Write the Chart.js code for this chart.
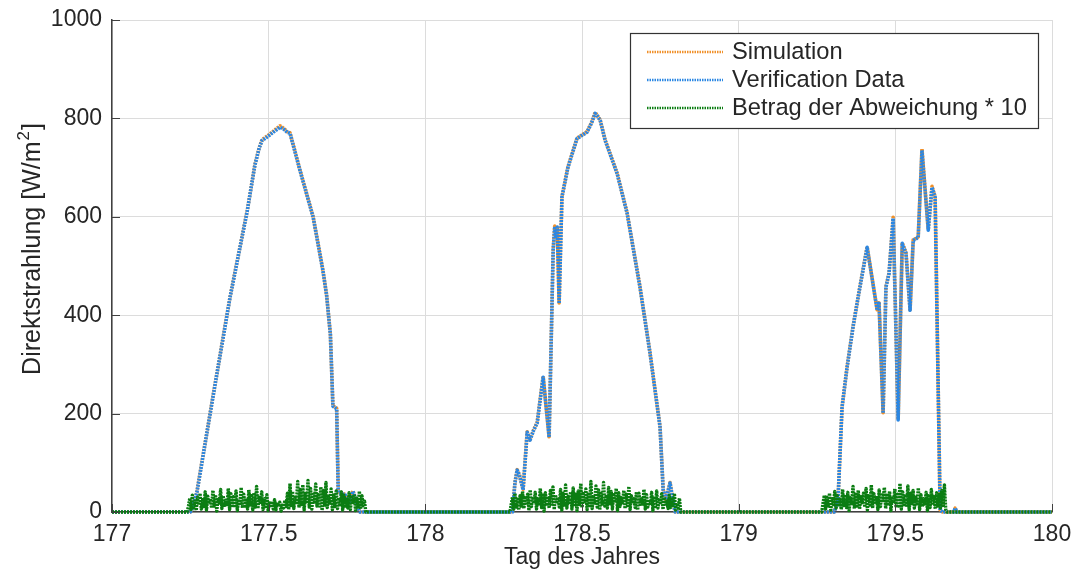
<!DOCTYPE html>
<html><head><meta charset="utf-8">
<script src="https://cdn.jsdelivr.net/npm/chart.js@4.4.1/dist/chart.umd.min.js"></script>
<style>html,body{margin:0;padding:0;background:#fff}canvas{display:block}</style>
</head><body>
<canvas id="c" width="1076" height="575"></canvas>
<script>
// ---------- data ----------
const seriesNames = ['Simulation', 'Verification Data', 'Betrag der Abweichung * 10'];
const xTitle = 'Tag des Jahres';
const yTitleMain = 'Direktstrahlung [W/m';
const yTitleSup = '2';
const yTitleEnd = ']';
const xTickValues = [177, 177.5, 178, 178.5, 179, 179.5, 180];
const yTickValues = [0, 200, 400, 600, 800, 1000];

// time (day of year) for the irradiance curves
const measDays = [
  177.0, 177.25, 177.255, 177.271, 177.322, 177.377, 177.432, 177.456, 177.47, 177.479, 177.495, 177.515,
  177.536, 177.548, 177.559, 177.568, 177.60, 177.642, 177.673, 177.685, 177.697, 177.705, 177.717, 177.722,
  177.744, 177.752, 177.76, 177.769, 177.776, 177.785, 177.792,
  178.278, 178.286, 178.293, 178.30, 178.312, 178.325, 178.334, 178.345, 178.357, 178.376, 178.395, 178.408,
  178.413, 178.417, 178.421, 178.427, 178.436, 178.455, 178.484, 178.516, 178.530, 178.542, 178.549, 178.558,
  178.574, 178.612, 178.644, 178.685, 178.717, 178.749, 178.759, 178.768, 178.781, 178.791, 178.797,
  179.305, 179.317, 179.330, 179.346, 179.365, 179.385, 179.410, 179.442, 179.448, 179.461, 179.470, 179.480,
  179.493, 179.509, 179.522, 179.534, 179.547, 179.557, 179.573, 179.585, 179.605, 179.617, 179.627, 179.643,
  179.65, 179.686, 179.691, 179.696, 180.0
];
const verificationValues = [
  0, 0, 5, 40, 233, 437, 613, 705, 740, 755, 762, 772,
  782, 778, 772, 770, 694, 599, 491, 440, 360, 215, 210, 40,
  35, 22, 20, 42, 30, 8, 0,
  0, 59, 85, 75, 45, 162, 146, 165, 181, 274, 152, 532,
  580, 560, 579, 424, 640, 700, 759, 772, 790, 810, 805, 796,
  755, 688, 607, 457, 323, 173, 45, 25, 59, 20, 0,
  0, 24, 213, 294, 376, 450, 538, 410, 424, 201, 457, 485,
  597, 187, 546, 526, 410, 552, 558, 735, 573, 660, 640, 4,
  0, 0, 8, 0, 0
];
const simulationValues = [
  0, 0, 5, 41, 234, 438, 614, 706, 741, 757, 764, 774,
  785, 780, 773, 771, 695, 600, 492, 441, 361, 216, 211, 41,
  36, 22, 21, 43, 30, 8, 0,
  0, 60, 86, 76, 46, 163, 147, 166, 182, 276, 153, 533,
  581, 561, 580, 425, 641, 701, 760, 773, 791, 812, 806, 797,
  756, 689, 608, 458, 324, 174, 46, 25, 60, 20, 0,
  0, 25, 214, 295, 377, 451, 539, 411, 425, 202, 458, 486,
  599, 188, 547, 527, 411, 553, 559, 738, 574, 662, 641, 4,
  0, 0, 8, 0, 0
];

// |deviation| * 10, sampled at equal intervals within three daylight windows
const devBandStarts = [177.24, 178.27, 179.265];
const devBandEnds   = [177.81, 178.815, 179.665];
const devBand1 = [0,12,28,5,34,9,22,3,30,14,38,6,25,11,41,4,32,16,27,8,44,12,35,2,29,18,46,7,33,10,
  24,15,48,5,37,13,31,9,43,3,26,17,50,8,36,12,28,6,45,14,33,4,39,10,52,7,30,16,41,5,
  27,11,35,3,22,9,18,6,25,4,16,12,20,2,14,8,24,11,38,5,58,13,42,7,33,19,62,9,46,15,
  55,4,37,21,64,10,48,6,40,17,57,12,35,8,51,3,44,14,60,9,32,18,47,5,38,11,43,7,29,15,
  41,4,34,12,26,8,39,5,30,16,36,3,28,10,42,6,33,13,22,0];
const devBand2 = [0,15,30,6,38,10,26,4,33,12,42,7,29,14,36,3,45,11,31,18,40,6,27,13,48,9,34,2,39,16,
  28,8,44,12,51,5,35,17,30,10,46,4,38,14,55,8,32,19,41,6,49,11,36,3,43,15,58,9,37,21,
  47,5,40,13,62,7,34,18,53,10,45,4,38,16,60,12,31,8,50,14,42,6,35,19,48,3,39,11,29,15,
  44,7,36,13,52,5,33,17,27,9,41,4,38,12,30,16,46,6,35,10,25,14,40,3,32,11,43,8,28,15,
  37,5,30,12,22,7,34,9,26,13,38,4,18,8,28,0];
const devBand3 = [0,18,34,6,30,12,38,4,27,15,42,8,33,11,26,5,46,13,35,9,40,3,29,17,52,7,36,12,44,6,
  31,19,38,10,48,4,33,14,55,8,37,16,29,5,45,11,39,20,50,7,34,13,42,3,28,18,47,9,36,12,
  58,6,41,15,32,10,53,4,38,17,44,8,30,13,49,5,35,11,27,16,40,3,33,9,46,14,31,6,39,12,
  36,8,44,10,55,5,0];

// ---------- build point lists ----------
function pairs(xs, ys) { return xs.map((x, i) => ({ x: x, y: ys[i] })); }
function devPoints() {
  const pts = [{ x: 177, y: 0 }];
  [devBand1, devBand2, devBand3].forEach((band, b) => {
    const s = devBandStarts[b], e = devBandEnds[b];
    band.forEach((v, i) => pts.push({ x: s + (e - s) * i / (band.length - 1), y: v }));
  });
  pts.push({ x: 180, y: 0 });
  return pts;
}

const FONT = '"Liberation Sans", Arial, sans-serif';
const TXT = '#262626';
const colors = ['#f0902a', '#2b87e3', '#0b7d12'];
const DASH = [2, 1];

const tickPlugin = {
  id: 'innerTicks',
  afterDatasetsDraw(chart) {
    const ctx = chart.ctx, a = chart.chartArea;
    const xs = chart.scales.x, ys = chart.scales.y;
    ctx.save();
    ctx.strokeStyle = '#404040';
    ctx.lineWidth = 1;
    ctx.beginPath();
    yTickValues.forEach(v => { const y = Math.round(ys.getPixelForValue(v)) + 0.5; ctx.moveTo(a.left, y); ctx.lineTo(a.left + 8, y); });
    xTickValues.forEach(v => { const x = Math.round(xs.getPixelForValue(v)) + 0.5; ctx.moveTo(x, a.bottom); ctx.lineTo(x, a.bottom - 8); });
    ctx.stroke();
    // y axis title with superscript
    ctx.fillStyle = TXT;
    ctx.translate(31, 250);
    ctx.rotate(-Math.PI / 2);
    const mainFont = '25px ' + FONT, supFont = '17px ' + FONT;
    ctx.font = mainFont; const w1 = ctx.measureText(yTitleMain).width; const w3 = ctx.measureText(yTitleEnd).width;
    ctx.font = supFont; const w2 = ctx.measureText(yTitleSup).width;
    let x0 = -(w1 + w2 + w3) / 2;
    ctx.textBaseline = 'alphabetic'; ctx.textAlign = 'left';
    ctx.font = mainFont; ctx.fillText(yTitleMain, x0, 9);
    ctx.font = supFont; ctx.fillText(yTitleSup, x0 + w1 + 1, -2);
    ctx.font = mainFont; ctx.fillText(yTitleEnd, x0 + w1 + w2 + 2, 9);
    ctx.restore();
  }
};

const legendPlugin = {
  id: 'boxLegend',
  afterDraw(chart) {
    const ctx = chart.ctx;
    const box = { l: 630, t: 33, r: 1038, b: 128 };
    ctx.save();
    ctx.fillStyle = '#ffffff';
    ctx.fillRect(box.l, box.t, box.r - box.l, box.b - box.t);
    ctx.strokeStyle = '#333333';
    ctx.lineWidth = 1.2;
    ctx.strokeRect(box.l + 0.5, box.t + 0.5, box.r - box.l, box.b - box.t);
    const rows = [52, 80, 108];
    seriesNames.forEach((name, i) => {
      ctx.strokeStyle = colors[i];
      ctx.lineWidth = 2.6;
      ctx.setLineDash([1.5, 1]);
      ctx.beginPath();
      ctx.moveTo(647, rows[i]);
      ctx.lineTo(723, rows[i]);
      ctx.stroke();
      ctx.setLineDash([]);
      ctx.fillStyle = TXT;
      ctx.font = '23.7px ' + FONT;
      ctx.textBaseline = 'middle';
      ctx.textAlign = 'left';
      ctx.fillText(name, 732, rows[i]);
    });
    ctx.restore();
  }
};

const lineStyle = { pointRadius: 0, tension: 0, borderDash: DASH, borderJoinStyle: 'round', borderCapStyle: 'butt' };

new Chart(document.getElementById('c'), {
  type: 'line',
  data: {
    datasets: [
      Object.assign({ label: seriesNames[0], data: pairs(measDays, simulationValues), borderColor: colors[0], borderWidth: 3.6, order: 3, clip: 4 }, lineStyle),
      Object.assign({ label: seriesNames[1], data: pairs(measDays, verificationValues), borderColor: colors[1], borderWidth: 3.6, order: 2, clip: 4 }, lineStyle),
      Object.assign({ label: seriesNames[2], data: devPoints(), borderColor: colors[2], borderWidth: 3.4, order: 1, clip: 4 }, lineStyle)
    ]
  },
  options: {
    responsive: false,
    animation: false,
    layout: { padding: { top: 20, right: 24, left: 0, bottom: 0 } },
    plugins: { legend: { display: false }, tooltip: { enabled: false } },
    scales: {
      x: {
        type: 'linear', min: 177, max: 180,
        afterBuildTicks: s => { s.ticks = xTickValues.map(v => ({ value: v })); },
        afterFit: s => { s.height = 63; s.paddingLeft = 0; s.paddingRight = 0; },
        grid: { color: '#dcdcdc', lineWidth: 1, drawTicks: false },
        border: { display: true, color: '#404040', width: 1.5 },
        ticks: { color: TXT, font: { family: FONT, size: 23 }, padding: 9, maxRotation: 0, callback: v => String(v) },
        title: { display: true, text: xTitle, color: TXT, font: { family: FONT, size: 23 }, padding: { top: 0, bottom: 4 } }
      },
      y: {
        min: 0, max: 1000,
        afterBuildTicks: s => { s.ticks = yTickValues.map(v => ({ value: v })); },
        afterFit: s => { s.width = 112; s.paddingTop = 0; s.paddingBottom = 0; },
        grid: { color: '#dcdcdc', lineWidth: 1, drawTicks: false },
        border: { display: true, color: '#404040', width: 1.5 },
        ticks: { color: TXT, font: { family: FONT, size: 23 }, padding: 10, callback: v => String(v) },
        title: { display: false }
      }
    }
  },
  plugins: [tickPlugin, legendPlugin]
});
</script>
</body></html>
